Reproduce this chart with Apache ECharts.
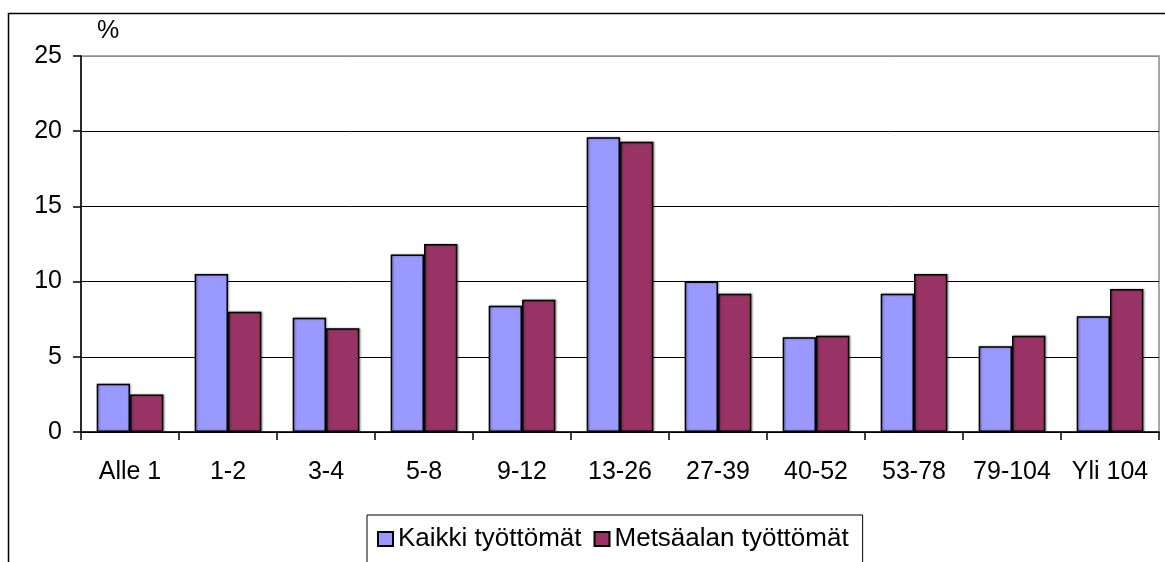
<!DOCTYPE html>
<html>
<head>
<meta charset="utf-8">
<script src="https://cdn.jsdelivr.net/npm/echarts@6/dist/echarts.min.js"></script>
<style>
  html, body { margin: 0; padding: 0; background: #fff; }
  #main { width: 1165px; height: 562px; }
</style>
</head>
<body>
<div id="main"></div>
<script>
// viikkoja työttömänä
const categories = ['Alle 1', '1-2', '3-4', '5-8', '9-12', '13-26', '27-39', '40-52', '53-78', '79-104', 'Yli 104'];
const kaikki = [3.2, 10.5, 7.6, 11.8, 8.4, 19.6, 10.0, 6.3, 9.2, 5.7, 7.7];
const metsa = [2.5, 8.0, 6.9, 12.5, 8.8, 19.3, 9.2, 6.4, 10.5, 6.4, 9.5];
const seriesNames = ['Kaikki työttömät', 'Metsäalan työttömät'];
const yTicks = [0, 5, 10, 15, 20, 25];

const font = 'Liberation Sans, Arial, sans-serif';

const chart = echarts.init(document.getElementById('main'));

const barStyle = (color) => ({
    color: color,
    borderColor: '#000',
    borderWidth: 1.5,
    shadowColor: 'rgba(0,0,0,0.35)',
    shadowBlur: 2,
    shadowOffsetX: 1,
    shadowOffsetY: 0
});

chart.setOption({
    animation: false,
    backgroundColor: '#fff',
    textStyle: { fontFamily: font, color: '#000' },
    graphic: [
        // ulkokehys (oikea ja ala reuna menevät kuvan ulkopuolelle)
        {
            type: 'rect',
            shape: { x: 8.5, y: 13.5, width: 1300, height: 700 },
            style: { fill: 'none', stroke: '#000', lineWidth: 1.5 },
            z: 0
        },
        {
            type: 'text',
            left: 97,
            top: 19,
            style: { text: '%', font: '25px ' + font, fill: '#000' }
        }
    ],
    grid: {
        left: 81,
        right: 6,
        top: 56,
        bottom: 130,
        show: true,
        borderColor: '#8c8c8c',
        borderWidth: 1.5
    },
    legend: {
        left: 367,
        top: 515,
        orient: 'horizontal',
        data: seriesNames,
        borderColor: '#000',
        borderWidth: 1,
        padding: [11, 14, 11, 10],
        itemGap: 12,
        itemWidth: 15,
        itemHeight: 14,
        icon: 'rect',
        textStyle: { fontFamily: font, fontSize: 26, color: '#000' }
    },
    xAxis: {
        type: 'category',
        data: categories,
        axisLine: { lineStyle: { color: '#000', width: 1.5 } },
        axisTick: { show: true, length: 8, lineStyle: { color: '#000', width: 1.5 } },
        axisLabel: { fontFamily: font, fontSize: 25, color: '#000', margin: 28, interval: 0 }
    },
    yAxis: {
        type: 'value',
        min: yTicks[0],
        max: yTicks[yTicks.length - 1],
        interval: 5,
        axisLine: { show: true, lineStyle: { color: '#000', width: 1.5 } },
        axisTick: { show: true, length: 8, lineStyle: { color: '#000', width: 1.5 } },
        axisLabel: { fontFamily: font, fontSize: 25, color: '#000', margin: 19 },
        splitLine: {
            show: true,
            lineStyle: { color: ['#000', '#000', '#000', '#000', '#000', '#8c8c8c'], width: 1 }
        }
    },
    series: [
        {
            name: seriesNames[0],
            type: 'bar',
            data: kaikki,
            barGap: '0%',
            barCategoryGap: '32%',
            itemStyle: barStyle('#9999ff')
        },
        {
            name: seriesNames[1],
            type: 'bar',
            data: metsa,
            barGap: '0%',
            barCategoryGap: '32%',
            itemStyle: barStyle('#993366')
        }
    ]
});
</script>
</body>
</html>
